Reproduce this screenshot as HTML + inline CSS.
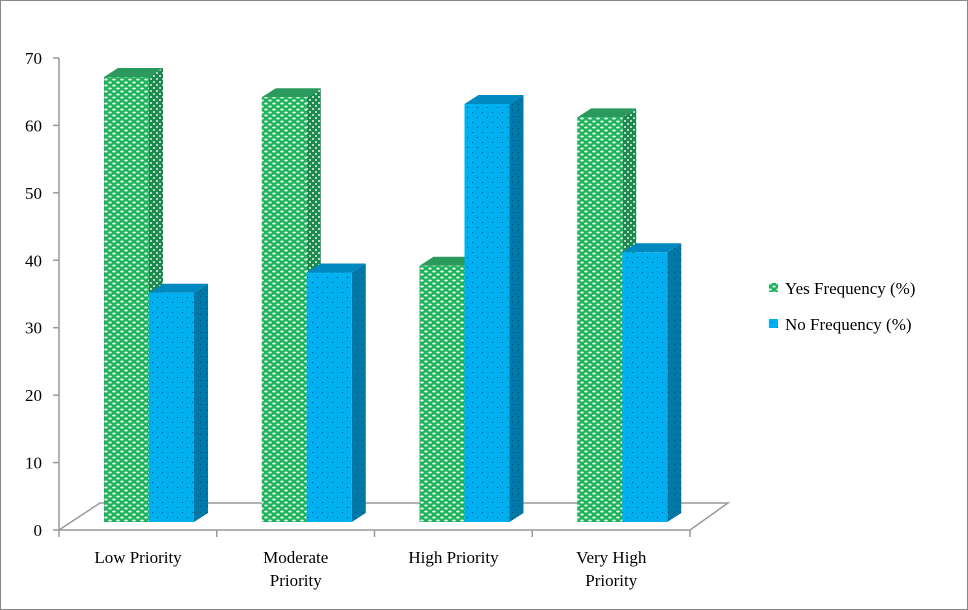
<!DOCTYPE html>
<html><head><meta charset="utf-8"><style>
body{margin:0;background:#fff}
svg{display:block;font-family:"Liberation Serif",serif}
</style></head><body>
<svg id="c" width="968" height="610">
<defs>
<pattern id="pg" width="8" height="6" patternUnits="userSpaceOnUse">
<rect width="8" height="6" fill="#1fb35c"/>
<ellipse cx="2" cy="1.5" rx="1.8" ry="1" fill="#e8f8ee"/>
<ellipse cx="6" cy="4.5" rx="1.8" ry="1" fill="#e8f8ee"/>
</pattern>
<pattern id="pgs" width="6" height="6" patternUnits="userSpaceOnUse">
<rect width="6" height="6" fill="#1c8a4e"/>
<rect x="0" y="0" width="2" height="2" fill="#b8d8c4"/>
<rect x="3" y="3" width="2" height="2" fill="#b8d8c4"/>
</pattern>
<pattern id="pb" width="10" height="10" patternUnits="userSpaceOnUse">
<rect width="10" height="10" fill="#00b0f0"/>
<rect x="2" y="2" width="1" height="1" fill="#0a4a6a"/>
<rect x="7" y="7" width="1" height="1" fill="#0a4a6a"/>
</pattern>
<pattern id="pbs" width="6" height="6" patternUnits="userSpaceOnUse">
<rect width="6" height="6" fill="#0078a8"/>
<rect x="2" y="2" width="1" height="1" fill="#034a66"/>
</pattern>
</defs>
<rect x="0.5" y="0.5" width="967" height="609" fill="#fff" stroke="#888"/>
<g id="g"></g>
</svg>
<script>
const categories=[["Low Priority"],["Moderate","Priority"],["High Priority"],["Very High","Priority"]];
const yesValues=[66,63,38,60];
const noValues=[34,37,62,40];
const yTicks=[0,10,20,30,40,50,60,70];
const seriesNames=["Yes Frequency (%)","No Frequency (%)"];
const NS="http://www.w3.org/2000/svg";
const g=document.getElementById('g');
function el(t,a,p){const e=document.createElementNS(NS,t);for(const k in a)e.setAttribute(k,a[k]);(p||g).appendChild(e);return e;}
const axY=v=>530-v*(472/70);
const barY=v=>522-v*(472/70);
const catX=i=>59+i*157.75;
const floor=el('polygon',{points:"59,530 100,503 728,503 690,530",fill:"none",stroke:"#999","stroke-width":1.5});


const ax=el('line',{x1:59,y1:axY(70),x2:59,y2:530,stroke:"#999","stroke-width":1.5});


yTicks.forEach(v=>{
 el('line',{x1:53,x2:59,y1:axY(v),y2:axY(v),stroke:"#999","stroke-width":1.5});
 const t=el('text',{x:42,y:axY(v)+6,"text-anchor":"end","font-size":17,fill:"#000"});
 t.textContent=v;
 
 
});
for(let i=0;i<=4;i++) el('line',{x1:catX(i),x2:catX(i),y1:530,y2:537,stroke:"#999","stroke-width":1.5});
function bar(x,v,front,top,sideFill,name){
 const y=barY(v),w=45,dx=14,dy=9;
 const grp=el('g',{});
 
 
 el('polygon',{points:`${x+w},${y} ${x+w+dx},${y-dy} ${x+w+dx},${522-dy} ${x+w},522`,fill:sideFill},grp);
 el('polygon',{points:`${x},${y} ${x+dx},${y-dy} ${x+w+dx},${y-dy} ${x+w},${y}`,fill:top},grp);
 el('rect',{x:x,y:y,width:w,height:522-y,fill:front},grp);
}
categories.forEach((c,i)=>{
 const x0=catX(i)+45;
 bar(x0,yesValues[i],"url(#pg)","#2a9a5c","url(#pgs)","bar-yes-"+i);
 bar(x0+45,noValues[i],"url(#pb)","#0088c0","url(#pbs)","bar-no-"+i);
 const cx=catX(i)+79;
 c.forEach((line,j)=>{
  const t=el('text',{x:cx,y:563+j*23,"text-anchor":"middle","font-size":17,fill:"#000"});
  t.textContent=line;
  
  
 });
});
const fills=["url(#pg)","url(#pb)"];
seriesNames.forEach((s,i)=>{
 const y=288+i*36;
 const lg=el('g',{});
 
 
 el('rect',{x:769,y:y-5,width:9,height:9,fill:fills[i]},lg);
 const t=el('text',{x:785,y:y+6,"font-size":17,fill:"#000"},lg);
 t.textContent=s;
});
</script>
</body></html>
